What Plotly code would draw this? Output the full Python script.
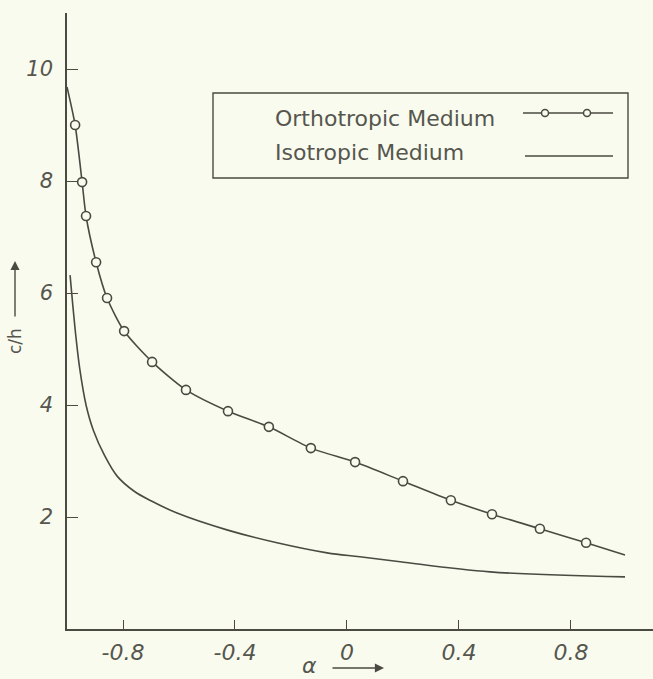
import plotly.graph_objects as go

# ---------------- data ----------------
ortho_line_x = [-1.0, -0.971, -0.946, -0.932, -0.896, -0.857, -0.796, -0.696, -0.575, -0.425,
                -0.279, -0.129, 0.029, 0.200, 0.371, 0.518, 0.689, 0.854, 0.993]
ortho_line_y = [9.68, 9.00, 7.98, 7.375, 6.55, 5.91, 5.32, 4.77, 4.27, 3.89,
                3.61, 3.23, 2.98, 2.64, 2.30, 2.05, 1.79, 1.54, 1.32]
ortho_mark_x = ortho_line_x[1:-1]
ortho_mark_y = ortho_line_y[1:-1]

iso_x = [-0.989, -0.980, -0.968, -0.954, -0.932, -0.906, -0.866, -0.821, -0.760, -0.700,
         -0.607, -0.429, -0.250, -0.071, 0.046, 0.19, 0.511, 0.993]
iso_y = [6.32, 5.82, 5.21, 4.63, 4.00, 3.55, 3.10, 2.73, 2.46, 2.29,
         2.07, 1.77, 1.54, 1.36, 1.29, 1.20, 1.02, 0.93]

x_tick_vals = [-0.8, -0.4, 0, 0.4, 0.8]
x_tick_text = ["-0.8", "-0.4", "0", "0.4", "0.8"]
y_tick_vals = [2, 4, 6, 8, 10]
y_tick_text = ["2", "4", "6", "8", "10"]

series_names = ["Orthotropic Medium", "Isotropic Medium"]

# ---------------- style ----------------
W, H = 653, 679
ML, MR, MT, MB = 67, 0, 13, 50
BG = "#f9fbef"
INK = "#4a4a42"
TXT = "#56564e"


def px(xp):
    return (xp - ML) / (W - ML - MR)


def py(yp):
    return (H - MB - yp) / (H - MT - MB)


fig = go.Figure()
fig.add_trace(go.Scatter(x=iso_x, y=iso_y, mode="lines",
                         line=dict(color=INK, width=1.6, shape="spline", smoothing=1.0),
                         showlegend=False, hoverinfo="skip"))
fig.add_trace(go.Scatter(x=ortho_line_x, y=ortho_line_y, mode="lines",
                         line=dict(color=INK, width=1.6, shape="spline", smoothing=0.7),
                         showlegend=False, hoverinfo="skip"))
fig.add_trace(go.Scatter(x=ortho_mark_x, y=ortho_mark_y, mode="markers",
                         marker=dict(symbol="circle", size=9, color=BG,
                                     line=dict(color=INK, width=1.6)),
                         showlegend=False))

shapes = []
annotations = []

# custom legend box (text left, sample right, like the original)
shapes.append(dict(type="rect", xref="paper", yref="paper",
                   x0=px(213), x1=px(628), y0=py(178), y1=py(93),
                   line=dict(color=INK, width=1.4), fillcolor=BG, layer="above"))
annotations.append(dict(xref="paper", yref="paper", x=px(273), y=py(119),
                        text=series_names[0], showarrow=False, xanchor="left", yanchor="middle",
                        font=dict(family="DejaVu Sans", size=22, color=TXT)))
annotations.append(dict(xref="paper", yref="paper", x=px(273), y=py(152),
                        text=series_names[1], showarrow=False, xanchor="left", yanchor="middle",
                        font=dict(family="DejaVu Sans", size=22, color=TXT)))
shapes.append(dict(type="line", xref="paper", yref="paper",
                   x0=px(523), x1=px(613), y0=py(113), y1=py(113),
                   line=dict(color=INK, width=1.6), layer="above"))
for cx in (545, 587):
    shapes.append(dict(type="circle", xref="paper", yref="paper",
                       x0=px(cx - 3.5), x1=px(cx + 3.5), y0=py(113 + 3.5), y1=py(113 - 3.5),
                       line=dict(color=INK, width=1.5), fillcolor=BG, layer="above"))
shapes.append(dict(type="line", xref="paper", yref="paper",
                   x0=px(525), x1=px(613), y0=py(156), y1=py(156),
                   line=dict(color=INK, width=1.6), layer="above"))

# axis titles with arrows
annotations.append(dict(xref="paper", yref="paper", x=px(309), y=py(665),
                        text="α", showarrow=False, xanchor="center", yanchor="middle",
                        font=dict(family="DejaVu Sans", size=22, color=TXT, style="italic")))
annotations.append(dict(xref="paper", yref="paper", x=px(384), y=py(668),
                        ax=-53, ay=0, axref="pixel", ayref="pixel",
                        text="", showarrow=True, arrowhead=2, arrowsize=1.3,
                        arrowwidth=1.4, arrowcolor=INK))
annotations.append(dict(xref="paper", yref="paper", x=px(15), y=py(341),
                        text="c/h", showarrow=False, textangle=-90,
                        xanchor="center", yanchor="middle",
                        font=dict(family="DejaVu Sans", size=17, color=TXT)))
annotations.append(dict(xref="paper", yref="paper", x=px(15), y=py(261),
                        ax=0, ay=57, axref="pixel", ayref="pixel",
                        text="", showarrow=True, arrowhead=2, arrowsize=1.3,
                        arrowwidth=1.4, arrowcolor=INK))

fig.update_layout(
    width=W, height=H,
    margin=dict(l=ML, r=MR, t=MT, b=MB),
    paper_bgcolor=BG, plot_bgcolor=BG,
    shapes=shapes, annotations=annotations,
    showlegend=False,
    xaxis=dict(range=[-1.0, 1.093], showgrid=False, zeroline=False,
               showline=True, linecolor=INK, linewidth=1.6,
               ticks="inside", ticklen=9, tickwidth=1.4, tickcolor=INK,
               tickvals=x_tick_vals, ticktext=x_tick_text,
               ticklabelstandoff=3,
               tickfont=dict(family="DejaVu Sans", size=22, color=TXT, style="italic")),
    yaxis=dict(range=[0, 11.0], showgrid=False, zeroline=False,
               showline=True, linecolor=INK, linewidth=1.6,
               ticks="inside", ticklen=11, tickwidth=1.4, tickcolor=INK,
               tickvals=y_tick_vals, ticktext=y_tick_text,
               ticklabelstandoff=8,
               tickfont=dict(family="DejaVu Sans", size=21, color=TXT, style="italic")),
)

fig.write_html("out.html")
